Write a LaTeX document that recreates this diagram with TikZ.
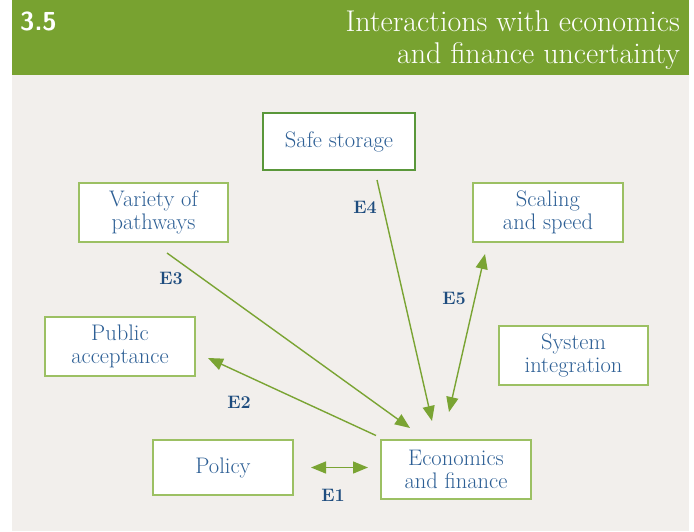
\documentclass[tikz,border=0pt]{standalone}
\usepackage{fontspec}
\usetikzlibrary{arrows.meta}
\definecolor{hdgreen}{HTML}{78A230}
\definecolor{bordgreen}{HTML}{9CC063}
\definecolor{darkbord}{HTML}{5A973A}
\definecolor{arrgreen}{HTML}{7AA433}
\definecolor{txtblue}{HTML}{2D5F95}
\definecolor{lblblue}{HTML}{1E4C7E}
\definecolor{panel}{HTML}{F2EFEC}
\tikzset{
  box/.style={draw=bordgreen, line width=1.6pt, fill=white, text=txtblue,
    align=center, inner sep=0pt, font=\fontsize{22.5}{23.5}\selectfont},
  conn/.style={draw=arrgreen, line width=1.4pt, -{Triangle[length=15pt,width=12pt]}},
  dconn/.style={draw=arrgreen, line width=1.4pt, {Triangle[length=15pt,width=12pt]}-{Triangle[length=15pt,width=12pt]}},
  elabel/.style={text=lblblue, font=\fontsize{18}{20}\selectfont\bfseries}
}
\begin{document}
\begin{tikzpicture}[x=1pt,y=-1pt]
\useasboundingbox (0,0) rectangle (694,531);
\fill[white] (0,0) rectangle (694,531);
\fill[panel] (12,75) rectangle (689,531);
\fill[hdgreen] (12,0) rectangle (689,75);
\node[anchor=base west, text=white, font=\fontsize{26}{28}\selectfont\sffamily\bfseries, inner sep=0pt] (num) at (20,30) {3.5};
\node[anchor=base east, text=white, font=\fontsize{30}{32}\selectfont, inner sep=0pt] (title) at (680,31)
  {Interactions with economics};
\node[anchor=base east, text=white, font=\fontsize{30}{32}\selectfont, inner sep=0pt] (title2) at (680,63)
  {and finance uncertainty};
% boxes
\node[box, draw=darkbord, minimum width=152pt, minimum height=57pt] (safe) at (339,141.5) {Safe storage};
\node[box, minimum width=149pt, minimum height=59pt] (variety) at (153.5,212.5) {Variety of\\pathways};
\node[box, minimum width=150pt, minimum height=59pt] (scaling) at (548,212.5) {Scaling\\and speed};
\node[box, minimum width=150pt, minimum height=59pt] (public) at (120,346.5) {Public\\acceptance};
\node[box, minimum width=149pt, minimum height=59pt] (system) at (573.5,355.5) {System\\integration};
\node[box, minimum width=140pt, minimum height=55pt] (policy) at (223,467.5) {Policy};
\node[box, minimum width=150pt, minimum height=59pt] (econ) at (456,469.5) {Economics\\and finance};
% connector end points
\coordinate (e1a) at (311,467.5);
\coordinate (e1b) at (368,467.5);
\coordinate (e2a) at (376,435.5);
\coordinate (e2b) at (208,358);
\coordinate (e3a) at (167,253);
\coordinate (e3b) at (410,428);
\coordinate (e4a) at (377,180);
\coordinate (e4b) at (432,421);
\coordinate (e5a) at (449,412);
\coordinate (e5b) at (485,254);
\draw[dconn] (e1a) -- (e1b);
\draw[conn] (e2a) -- (e2b);
\draw[conn] (e3a) -- (e3b);
\draw[conn] (e4a) -- (e4b);
\draw[dconn] (e5a) -- (e5b);
% labels
\node[elabel] (l1) at (333,495) {E1};
\node[elabel] (l2) at (239,402) {E2};
\node[elabel] (l3) at (171,278) {E3};
\node[elabel] (l4) at (365,207) {E4};
\node[elabel] (l5) at (454,298) {E5};
\end{tikzpicture}
\end{document}
